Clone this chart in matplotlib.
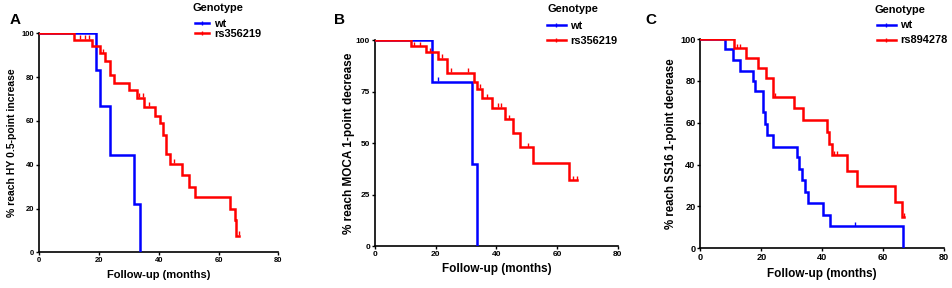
import numpy as np
import matplotlib
matplotlib.use("Agg")
import matplotlib.pyplot as plt
from matplotlib.lines import Line2D

plt.rcParams['font.family'] = ['Liberation Sans', 'DejaVu Sans']
plt.rcParams['font.weight'] = 'bold'

BLUE = '#0000ff'
RED = '#ff0000'

# ---- Panel A ----
a_wt_t = [0, 19.0, 20.3, 23.8, 31.8, 33.7]
a_wt_s = [100, 83.3, 66.7, 44.4, 22.2, 0]
a_wt_end = 33.7
a_wt_cens = [5.8]
a_rs_t = [0, 11.6, 17.7, 20.3, 21.9, 23.7, 24.9, 30.1, 32.6, 34.9, 38.9, 40.4, 41.5,
          42.5, 43.8, 47.9, 50.2, 52.0, 63.8, 65.6, 66.0]
a_rs_s = [100, 97.1, 94.1, 90.9, 87.5, 80.8, 77.5, 74.1, 70.6, 66.5, 62.4, 58.9, 53.6,
          44.9, 40.3, 35.3, 30.0, 25.1, 19.8, 14.8, 7.5]
a_rs_end = 66.9
a_rs_cens = [8.0, 10.6, 13.6, 15.3, 16.7, 21.5, 33.5, 34.6, 36.7, 45.2, 66.9]

# ---- Panel B ----
b_wt_t = [0, 18.9, 31.9, 33.7]
b_wt_s = [100, 79.9, 39.9, 0]
b_wt_end = 33.7
b_wt_cens = [5.8, 20.7]
b_rs_t = [0, 11.8, 16.8, 20.9, 23.7, 32.5, 33.6, 35.2, 38.7, 42.9, 45.6, 47.8, 52.2, 64.0]
b_rs_s = [100, 97.2, 94.3, 91.0, 84.3, 80.0, 76.5, 71.8, 67.3, 61.6, 54.8, 48.1, 40.2, 32.1]
b_rs_end = 66.5
b_rs_cens = [7.9, 10.7, 13.0, 14.8, 18.1, 22.1, 24.9, 30.8, 34.6, 36.8, 40.7, 41.5, 44.0,
             50.5, 65.4, 66.5]

# ---- Panel C ----
c_wt_t = [0, 8.1, 10.6, 13.0, 17.2, 17.9, 20.7, 21.1, 21.9, 23.7, 31.6, 32.5, 33.4, 34.5,
          35.4, 40.3, 42.7, 66.4]
c_wt_s = [100, 95.2, 90.0, 85.0, 80.2, 75.3, 65.4, 59.5, 54.2, 48.6, 43.5, 38.1, 32.7, 27.1,
          21.6, 16.1, 10.5, 0]
c_wt_end = 66.4
c_wt_cens = [50.7]
c_rs_t = [0, 11.1, 15.0, 18.9, 21.7, 23.7, 30.6, 33.6, 41.4, 42.2, 43.1, 48.0, 51.5, 63.8, 66.0]
c_rs_s = [100, 95.7, 90.9, 86.1, 81.5, 72.2, 67.0, 61.2, 55.5, 49.9, 44.5, 37.0, 29.8, 22.2, 14.8]
c_rs_end = 66.8
c_rs_cens = [5.9, 11.9, 13.0, 24.4, 43.9, 45.0, 66.8]

panels = [
    dict(letter='A', pos=[0.0412, 0.124, 0.2508, 0.760],
         ylabel='% reach HY 0.5-point increase', yticks=[0, 20, 40, 60, 80, 100],
         wt=(a_wt_t, a_wt_s, a_wt_end, a_wt_cens), rs=(a_rs_t, a_rs_s, a_rs_end, a_rs_cens),
         rsname='rs356219', tick_fs=5.5, lab_fs=7.5, xlab_fs=8.0, ylpad=3,
         title_xy=(0.2015, 0.972), leg_xy=(0.2046, 0.934), hl=1.25, ls=0.0, htp=0.5,
         letterpos=(0.010, 0.955)),
    dict(letter='B', pos=[0.3935, 0.1458, 0.2547, 0.714],
         ylabel='% reach MOCA 1-point decrease', yticks=[0, 25, 50, 75, 100],
         wt=(b_wt_t, b_wt_s, b_wt_end, b_wt_cens), rs=(b_rs_t, b_rs_s, b_rs_end, b_rs_cens),
         rsname='rs356219', tick_fs=6.0, lab_fs=8.5, xlab_fs=8.5, ylpad=1,
         title_xy=(0.5747, 0.969), leg_xy=(0.5737, 0.927), hl=1.75, ls=0.45, htp=0.35,
         letterpos=(0.350, 0.955)),
    dict(letter='C', pos=[0.7348, 0.138, 0.256, 0.726],
         ylabel='% reach SS16 1-point decrease', yticks=[0, 20, 40, 60, 80, 100],
         wt=(c_wt_t, c_wt_s, c_wt_end, c_wt_cens), rs=(c_rs_t, c_rs_s, c_rs_end, c_rs_cens),
         rsname='rs894278', tick_fs=6.6, lab_fs=8.3, xlab_fs=8.5, ylpad=2,
         title_xy=(0.918, 0.965), leg_xy=(0.920, 0.929), hl=1.75, ls=0.45, htp=0.35,
         letterpos=(0.677, 0.955)),
]

fig = plt.figure(figsize=(9.53, 2.88), dpi=100)


def draw_km(ax, t, s, end, cens, color):
    tt = list(t) + [end]
    ss = list(s) + [s[-1]]
    ax.step(tt, ss, where='post', color=color, lw=1.8, solid_joinstyle='miter', zorder=3)
    t_arr = np.array(t)
    cy = [s[np.searchsorted(t_arr, c, side='right') - 1] for c in cens]
    ax.plot(cens, np.array(cy) + 1.2, ls='none', marker='|', ms=3.0, mew=1.0,
            color=color, zorder=3)


for p in panels:
    ax = fig.add_axes(p['pos'])
    draw_km(ax, *p['wt'], BLUE)
    draw_km(ax, *p['rs'], RED)
    ax.set_xlim(0, 80)
    ax.set_ylim(0, 100)
    ax.set_xticks([0, 20, 40, 60, 80])
    ax.set_yticks(p['yticks'])
    for sp in ['top', 'right']:
        ax.spines[sp].set_visible(False)
    for sp in ['left', 'bottom']:
        ax.spines[sp].set_linewidth(1.2)
        ax.spines[sp].set_clip_on(False)
    ax.tick_params(axis='both', labelsize=p['tick_fs'], width=1.0, length=2.5, pad=1.0)
    for lab in ax.get_xticklabels() + ax.get_yticklabels():
        lab.set_fontweight('bold')
    ax.set_xlabel('Follow-up (months)', fontsize=p['xlab_fs'], fontweight='bold', labelpad=4)
    ax.set_ylabel(p['ylabel'], fontsize=p['lab_fs'], fontweight='bold', labelpad=p['ylpad'])
    fig.text(p['letterpos'][0], p['letterpos'][1], p['letter'], fontsize=11,
             fontweight='bold', va='top', ha='left')
    fig.text(p['title_xy'][0], p['title_xy'][1], 'Genotype', fontsize=7.9,
             fontweight='bold', va='center', ha='left')
    handles = [Line2D([], [], color=BLUE, lw=1.8, marker='|', ms=3, mew=1.0),
               Line2D([], [], color=RED, lw=1.8, marker='|', ms=3, mew=1.0)]
    leg = fig.legend(handles, ['wt', p['rsname']], loc='upper left',
                     bbox_to_anchor=p['leg_xy'], frameon=False, fontsize=7.9,
                     handlelength=p['hl'], handletextpad=p['htp'],
                     labelspacing=p['ls'], borderpad=0.0, borderaxespad=0.0)
    for txt in leg.get_texts():
        txt.set_fontweight('bold')

fig.savefig('out.png', dpi=100)
